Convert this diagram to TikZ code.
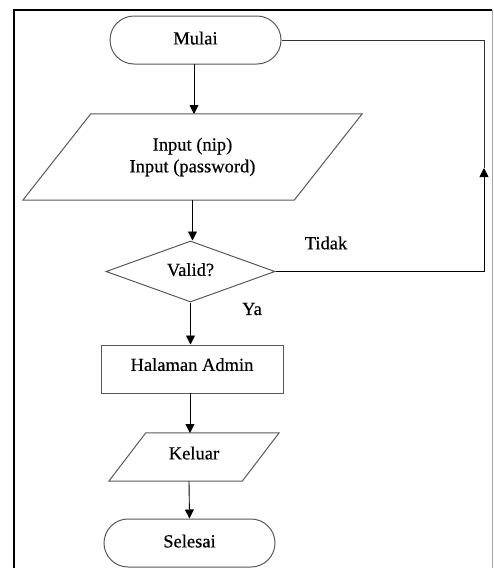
\documentclass[tikz,border=0pt]{standalone}
\usepackage{fontspec}
\setmainfont{Liberation Serif}[FakeBold=0.4]
\usetikzlibrary{shapes.geometric,arrows.meta}
\begin{document}
\begin{tikzpicture}[x=1pt,y=-1pt,
  every node/.style={font=\fontsize{18.5}{22}\selectfont, text=black},
  outl/.style={draw=black!65, line width=1pt},
  term/.style={outl, rectangle, rounded corners=24pt, minimum width=171pt, minimum height=48pt, inner sep=0pt},
  box/.style={rectangle, inner sep=0pt},
  proc/.style={outl, rectangle, minimum width=182pt, minimum height=48pt, inner sep=0pt},
  dec/.style={outl, diamond, minimum width=169pt, minimum height=61pt, inner sep=0pt, aspect=2.77},
  arr/.style={draw=black, line width=0.9pt, -{Triangle[length=9pt,width=9pt]}},
  lin/.style={draw=black!80, line width=0.9pt},
  lbl/.style={inner sep=0pt}]
\useasboundingbox (0,0) rectangle (493,568);
% frame
\draw[black, line width=2pt] (14,568) -- (14,10) -- (492,10);
\draw[black!35, line width=1pt] (492,10) -- (492,568);
% nodes
\node[term] (mulai) at (195.5,40) {\raisebox{4pt}{Mulai}};
\node[box, minimum width=271pt, minimum height=86pt] (inp) at (192.5,157) {\shortstack{Input (nip)\\[2pt]Input (password)}};
\draw[outl] ([xshift=34pt]inp.north west) -- ([xshift=34pt]inp.north east) -- ([xshift=-34pt]inp.south east) -- ([xshift=-34pt]inp.south west) -- cycle;
\node[dec] (valid) at (190.5,271.5) {\raisebox{4pt}{Valid?}};
\node[proc] (admin) at (192,369) {\raisebox{9pt}{Halaman Admin}};
\node[box, minimum width=133pt, minimum height=48pt] (keluar) at (194,457) {\raisebox{8pt}{Keluar}};
\draw[outl] ([xshift=18.5pt]keluar.north west) -- ([xshift=18.5pt]keluar.north east) -- ([xshift=-18.5pt]keluar.south east) -- ([xshift=-18.5pt]keluar.south west) -- cycle;
\node[term] (selesai) at (189.5,543) {\raisebox{4pt}{Selesai}};
% labels
\node[lbl] (tidak) at (326,243) {Tidak};
\node[lbl] (ya) at (252,309) {Ya};
% connectors
\coordinate (c1) at (484,271.5);
\coordinate (cm) at (484,168);
\coordinate (c2) at (484,40);
\draw[arr] (194,64) -- (194,114);
\draw[arr] (inp.south) -- (inp.south |- valid.north);
\draw[arr] (valid.south) -- (valid.south |- admin.north);
\draw[arr] (190,393) -- (190,433);
\draw[arr] (189,481) -- (selesai.north);
\draw[arr] (valid.east) -- (c1) -- (cm);
\draw[lin] (cm) -- (c2) -- (mulai.east);
\end{tikzpicture}
\end{document}
